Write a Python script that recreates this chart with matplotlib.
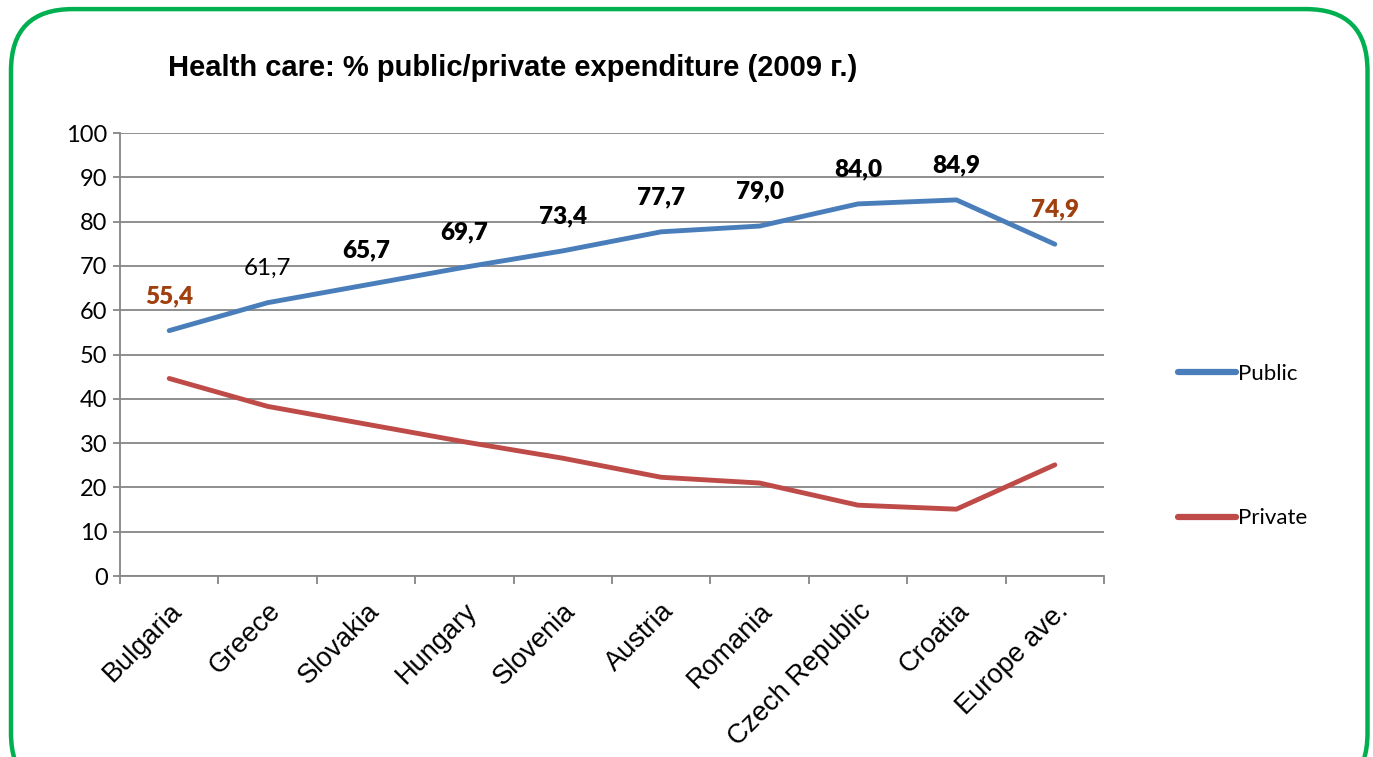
import matplotlib.pyplot as plt
from matplotlib.patches import FancyBboxPatch

countries = ['Bulgaria', 'Greece', 'Slovakia', 'Hungary', 'Slovenia',
             'Austria', 'Romania', 'Czech Republic', 'Croatia', 'Europe ave.']
public = [55.4, 61.7, 65.7, 69.7, 73.4, 77.7, 79.0, 84.0, 84.9, 74.9]
private = [44.6, 38.3, 34.3, 30.3, 26.6, 22.3, 21.0, 16.0, 15.1, 25.1]
labels = ['55,4', '61,7', '65,7', '69,7', '73,4', '77,7', '79,0', '84,0', '84,9', '74,9']
yticks = [0, 10, 20, 30, 40, 50, 60, 70, 80, 90, 100]

narrow = ['Lato', 'DejaVu Sans']
arial = ['Liberation Sans', 'DejaVu Sans']
blue = '#4a7ebb'
red = '#be4b48'
brown = '#a0400f'
grid = '#868686'

fig = plt.figure(figsize=(13.73, 7.57), dpi=100)

# rounded green frame
frame = FancyBboxPatch((0.008, -0.05), 0.988, 1.038,
                       boxstyle='round,pad=0,rounding_size=0.045',
                       transform=fig.transFigure, fill=False,
                       edgecolor='#00b050', linewidth=3.2, clip_on=False,
                       mutation_aspect=1373/757)
fig.patches.append(frame)

ax = fig.add_axes([0.0874, 0.239, 0.7167, 0.5853])
x = list(range(len(countries)))
ax.plot(x, public, color=blue, lw=3.5, solid_capstyle='round',
        solid_joinstyle='round', label='Public')
ax.plot(x, private, color=red, lw=3.5, solid_capstyle='round',
        solid_joinstyle='round', label='Private')

for i, (v, s) in enumerate(zip(public, labels)):
    if i == 0 or i == len(public) - 1:
        c, w = brown, 'heavy'
    elif i == 1:
        c, w = 'black', 'normal'
    else:
        c, w = 'black', 'heavy'
    ax.annotate(s, (i, v), xytext=(0, 25), textcoords='offset points',
                ha='center', va='center', fontsize=17.5, color=c,
                fontweight=w, family=narrow)

ax.set_xlim(-0.5, len(countries) - 0.5)
ax.set_ylim(0, 100)
ax.set_yticks(yticks)
ax.set_yticklabels([str(t) for t in yticks], family=narrow, fontsize=17)
ax.yaxis.grid(True, color=grid, lw=1.3)
ax.set_axisbelow(True)
for sp in ['top', 'right', 'bottom']:
    ax.spines[sp].set_visible(False)
ax.spines['left'].set_color(grid)
ax.spines['left'].set_linewidth(1.3)
ax.tick_params(axis='y', length=5, color=grid, width=1.3, pad=4)

# category ticks sit between categories, labels at centres
ax.set_xticks([i - 0.5 for i in range(len(countries) + 1)], minor=True)
ax.set_xticks(x)
ax.set_xticklabels(countries, rotation=45, ha='right', rotation_mode='anchor',
                   family=arial, fontsize=19.5)
ax.tick_params(axis='x', which='major', length=0, pad=16)
ax.tick_params(axis='x', which='minor', length=6, color=grid, width=1.3)
ax.axhline(0, color=grid, lw=1.3, clip_on=False)

leg = ax.legend(loc='center left', bbox_to_anchor=(1.055, 0.293), frameon=False,
                handlelength=2.6, handletextpad=0.1, labelspacing=5.6,
                prop={'family': narrow, 'size': 16})
for h in leg.get_lines():
    h.set_linewidth(4.5)

fig.text(168/1373, 1 - 68/757, 'Health care: % public/private expenditure (2009 г.)',
         ha='left', va='center', fontsize=21, fontweight='bold', family=arial)

fig.savefig('out.png', dpi=100)
